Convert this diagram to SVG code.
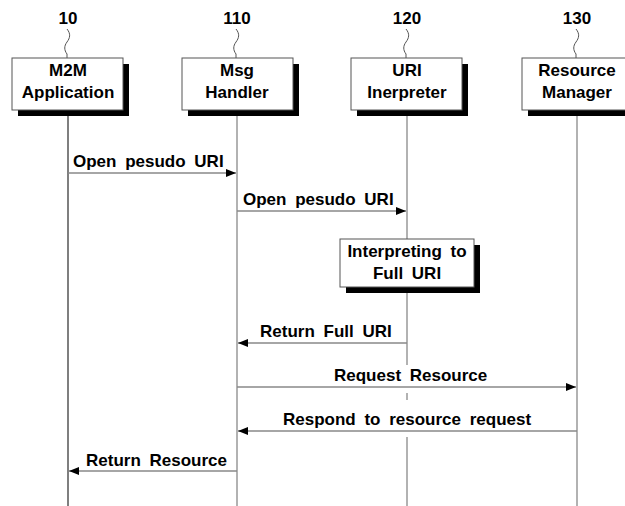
<svg xmlns="http://www.w3.org/2000/svg" width="625" height="506" viewBox="0 0 625 506">
<style>
.t{font-family:"Liberation Sans",Arial,sans-serif;font-weight:bold;font-size:17px;fill:#000;word-spacing:4px}
.h{text-anchor:middle}
.box{fill:#fff;stroke:#555;stroke-width:1}
.sh{fill:#000}
.life{stroke:#999;stroke-width:1.5;fill:none}
.msg{stroke:#888;stroke-width:1.5;fill:none}
.sq{stroke:#555;stroke-width:1;fill:none}
.bg{fill:#fff}
</style>
<defs>
<marker id="ah" viewBox="0 0 10 8" refX="10" refY="4" markerWidth="10" markerHeight="8" markerUnits="userSpaceOnUse" orient="auto">
<path d="M0,0 L10,4 L0,8 Z" fill="#000"/>
</marker>
</defs>
<g id="lifelines">
<line class="life" x1="68" y1="110" x2="68" y2="506" style="stroke:#555"/>
<line class="life" x1="237" y1="110" x2="237" y2="506"/>
<line class="life" x1="407" y1="110" x2="407" y2="506"/>
<line class="life" x1="577" y1="110" x2="577" y2="506"/>
</g>
<g id="n10">
<text class="t h" x="68" y="24">10</text>
<path class="sq" d="M67,29 C71,34 70,38 67,42 C64,46 64,50 67,54 L67,58"/>
<rect class="sh" x="18" y="64" width="111" height="52"/>
<rect class="box" x="12" y="58" width="111" height="52"/>
<text class="t h" x="68" y="76">M2M</text>
<text class="t h" x="68" y="98">Application</text>
</g>
<g id="n110">
<text class="t h" x="237" y="24">110</text>
<path class="sq" d="M236,29 C240,34 239,38 236,42 C233,46 233,50 236,54 L236,58"/>
<rect class="sh" x="188" y="64" width="111" height="52"/>
<rect class="box" x="182" y="58" width="111" height="52"/>
<text class="t h" x="237" y="76">Msg</text>
<text class="t h" x="237" y="98">Handler</text>
</g>
<g id="n120">
<text class="t h" x="407" y="24">120</text>
<path class="sq" d="M406,29 C410,34 409,38 406,42 C403,46 403,50 406,54 L406,58"/>
<rect class="sh" x="357" y="64" width="111" height="52"/>
<rect class="box" x="351" y="58" width="111" height="52"/>
<text class="t h" x="407" y="76">URI</text>
<text class="t h" x="407" y="98">Inerpreter</text>
</g>
<g id="n130">
<text class="t h" x="577" y="24">130</text>
<path class="sq" d="M576,29 C580,34 579,38 576,42 C573,46 573,50 576,54 L576,58"/>
<rect class="sh" x="528" y="64" width="111" height="52"/>
<rect class="box" x="522" y="58" width="111" height="52"/>
<text class="t h" x="577" y="76">Resource</text>
<text class="t h" x="577" y="98">Manager</text>
</g>
<g id="interp">
<rect class="sh" x="346" y="245" width="134" height="48"/>
<rect class="box" x="340" y="239" width="134" height="48"/>
<text class="t h" x="407" y="257">Interpreting to</text>
<text class="t h" x="407" y="279">Full URI</text>
</g>
<g id="connectors">
<line class="msg" x1="68" y1="173" x2="236" y2="173" marker-end="url(#ah)"/>
<text class="t" x="73" y="167">Open pesudo URI</text>
<line class="msg" x1="237" y1="211" x2="406" y2="211" marker-end="url(#ah)"/>
<text class="t" x="243" y="205">Open pesudo URI</text>
<line class="msg" x1="407" y1="343" x2="238" y2="343" marker-end="url(#ah)"/>
<text class="t" x="260" y="337">Return Full URI</text>
<rect class="bg" x="400" y="365" width="14" height="28"/>
<line class="msg" x1="237" y1="387" x2="576" y2="387" marker-end="url(#ah)"/>
<text class="t" x="334" y="381">Request Resource</text>
<rect class="bg" x="400" y="400" width="14" height="37"/>
<line class="msg" x1="577" y1="431" x2="238" y2="431" marker-end="url(#ah)"/>
<text class="t" x="283" y="425">Respond to resource request</text>
<line class="msg" x1="237" y1="471" x2="69" y2="471" marker-end="url(#ah)"/>
<text class="t" x="86" y="466">Return Resource</text>
</g>
</svg>
